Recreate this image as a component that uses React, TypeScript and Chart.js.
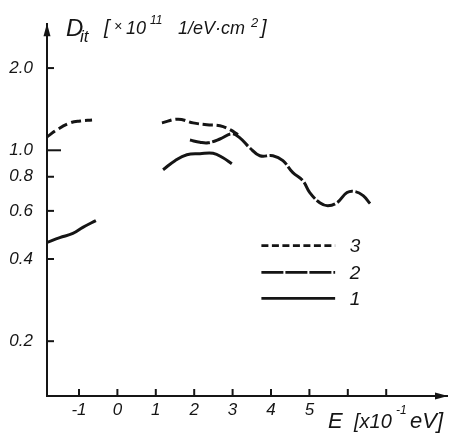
import React, { useEffect, useRef } from 'react';
import { Chart, registerables } from 'chart.js';

Chart.register(...registerables);

// ---- axis ticks ----
const xTickValues = [-1, 0, 1, 2, 3, 4, 5, 6, 7];
const xTickLabels = ['-1', '0', '1', '2', '3', '4', '5', '', ''];
const yTickValues = [0.2, 0.4, 0.6, 0.8, 1.0, 2.0];
const yTickLabels = ['0.2', '0.4', '0.6', '0.8', '1.0', '2.0'];

// ---- curve 3 (short dashes) ----
const curve3LeftE = [-1.83, -1.57, -1.23, -0.97, -0.66];
const curve3LeftD = [1.12, 1.19, 1.26, 1.28, 1.29];
const curve3MidE = [1.16, 1.58, 1.97, 2.33, 2.67, 2.93, 3.14];
const curve3MidD = [1.26, 1.3, 1.26, 1.24, 1.23, 1.19, 1.14];

// ---- curve 2 (long dashes) ----
const curve2E = [1.89, 2.15, 2.36, 2.67, 2.98, 3.19, 3.45, 3.71, 4.05, 4.31, 4.57, 4.83, 5.01, 5.27, 5.48, 5.72, 5.98, 6.19, 6.4, 6.58];
const curve2D = [1.09, 1.07, 1.065, 1.1, 1.15, 1.11, 1.02, 0.955, 0.955, 0.916, 0.828, 0.774, 0.7, 0.643, 0.627, 0.643, 0.7, 0.706, 0.682, 0.638];

// ---- curve 1 (solid) ----
const curve1LeftE = [-1.83, -1.5, -1.16, -0.9, -0.56];
const curve1LeftD = [0.46, 0.479, 0.496, 0.522, 0.553];
const curve1MidE = [1.19, 1.5, 1.81, 2.15, 2.49, 2.75, 2.98];
const curve1MidD = [0.849, 0.916, 0.963, 0.971, 0.975, 0.939, 0.893];

// ---- legend ----
const legendLabels = ['3', '2', '1'];
const legendD = [0.448, 0.357, 0.287];

const INK = '#151515';
const FAM = '"Liberation Sans"';
const DASH3 = [10, 4];
const DASH2 = [20, 2.5];
const SOLID: number[] = [];
const legendDashes = [[7, 3.5], [22, 2], SOLID];

function seg(E: number[], D: number[], dash: number[]) {
  return {
    data: E.map((e, i) => ({ x: e, y: D[i] })),
    borderColor: INK,
    borderWidth: 3,
    borderDash: dash,
    pointRadius: 0,
    tension: 0.4,
    fill: false,
    showLine: true,
  };
}

function drawParts(ctx: CanvasRenderingContext2D, parts: [string, number, number, number][]) {
  for (const [t, px, size, by] of parts) {
    ctx.font = `italic ${size}px ${FAM}`;
    ctx.fillText(t, px, by);
  }
}

const decor = {
  id: 'decor',
  afterDatasetsDraw(chart: any) {
    const { ctx, chartArea, scales } = chart;
    const { left, right, top, bottom } = chartArea;
    const x = scales.x;
    const y = scales.y;
    ctx.save();
    ctx.strokeStyle = INK;
    ctx.fillStyle = INK;
    ctx.lineWidth = 2;
    ctx.setLineDash([]);
    // inward tick marks
    yTickValues.forEach((v) => {
      const py = y.getPixelForValue(v);
      const len = v === 1 ? 14 : 7;
      ctx.beginPath();
      ctx.moveTo(left, py);
      ctx.lineTo(left + len, py);
      ctx.stroke();
    });
    xTickValues.forEach((v) => {
      const px = x.getPixelForValue(v);
      ctx.beginPath();
      ctx.moveTo(px, bottom);
      ctx.lineTo(px, bottom - 7);
      ctx.stroke();
    });
    // arrow heads
    ctx.beginPath();
    ctx.moveTo(left, top - 1);
    ctx.lineTo(left - 3.5, top + 12);
    ctx.lineTo(left + 3.5, top + 12);
    ctx.closePath();
    ctx.fill();
    ctx.beginPath();
    ctx.moveTo(right + 1, bottom);
    ctx.lineTo(right - 12, bottom - 3.5);
    ctx.lineTo(right - 12, bottom + 3.5);
    ctx.closePath();
    ctx.fill();
    // legend
    const lx0 = x.getPixelForValue(3.75);
    const lx1 = x.getPixelForValue(5.67);
    const ltx = x.getPixelForValue(6.05);
    ctx.lineWidth = 2.8;
    legendLabels.forEach((lab, i) => {
      const py = y.getPixelForValue(legendD[i]);
      ctx.setLineDash(legendDashes[i]);
      ctx.beginPath();
      ctx.moveTo(lx0, py);
      ctx.lineTo(lx1, py);
      ctx.stroke();
      ctx.setLineDash([]);
      ctx.font = `italic 19px ${FAM}`;
      ctx.textBaseline = 'middle';
      ctx.fillText(lab, ltx, py + 1);
    });
    ctx.textBaseline = 'alphabetic';
    // y axis title
    drawParts(ctx, [
      ['D', 66, 24, 36],
      ['it', 80, 17, 42],
      ['[', 104, 20, 34],
      ['\u00d7', 114, 14, 31],
      ['10', 126, 18, 34],
      ['11', 150, 12, 24],
      ['1/eV\u00b7cm', 178, 18, 34],
      ['2', 251, 13, 27],
      [']', 261, 20, 34],
    ]);
    // x axis title
    drawParts(ctx, [
      ['E', 328, 22, 428],
      ['[x10', 354, 20, 428],
      ['-1', 396, 12, 414],
      ['eV]', 410, 22, 428],
    ]);
    ctx.restore();
  },
};

export default function App() {
  const ref = useRef<HTMLCanvasElement>(null);
  useEffect(() => {
    const chart = new Chart(ref.current as HTMLCanvasElement, {
      type: 'line',
      data: {
        datasets: [
          seg(curve3LeftE, curve3LeftD, DASH3),
          seg(curve3MidE, curve3MidD, DASH3),
          seg(curve2E, curve2D, DASH2),
          seg(curve1LeftE, curve1LeftD, SOLID),
          seg(curve1MidE, curve1MidD, SOLID),
        ] as any,
      },
      options: {
        animation: false,
        responsive: false,
        layout: { padding: { left: 0, top: 23, right: 6, bottom: 0 } },
        plugins: { legend: { display: false }, tooltip: { enabled: false }, title: { display: false } },
        scales: {
          x: {
            type: 'linear',
            min: -1.833,
            max: 8.583,
            afterFit: (s: any) => { s.height = 43; },
            afterBuildTicks: (s: any) => { s.ticks = xTickValues.map((v) => ({ value: v })); },
            grid: { display: false, drawTicks: false },
            border: { display: true, color: INK, width: 2 },
            ticks: {
              padding: 4,
              color: INK,
              maxRotation: 0,
              autoSkip: false,
              font: { family: FAM, size: 17, style: 'italic' },
              callback: (v: any) => xTickLabels[xTickValues.indexOf(Number(v))] ?? '',
            },
          },
          y: {
            type: 'logarithmic',
            min: 0.126,
            max: 2.895,
            afterFit: (s: any) => { s.width = 47; },
            afterBuildTicks: (s: any) => { s.ticks = yTickValues.map((v) => ({ value: v })); },
            grid: { display: false, drawTicks: false },
            border: { display: true, color: INK, width: 2 },
            ticks: {
              padding: 14,
              color: INK,
              autoSkip: false,
              font: { family: FAM, size: 17, style: 'italic' },
              callback: (v: any) => yTickLabels[yTickValues.indexOf(Number(v))] ?? '',
            },
          },
        },
      },
      plugins: [decor],
    });
    return () => chart.destroy();
  }, []);
  return (
    <div style={{ position: 'absolute', left: 0, top: 0, width: 453, height: 439, background: '#fff' }}>
      <canvas ref={ref} width={453} height={439} style={{ width: 453, height: 439, display: 'block' }} />
    </div>
  );
}
